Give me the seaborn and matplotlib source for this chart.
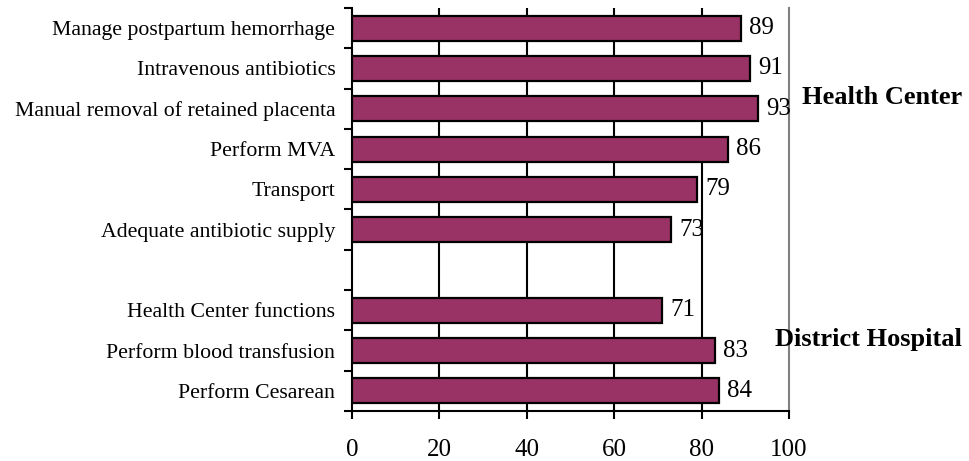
import matplotlib
matplotlib.use("Agg")
import matplotlib.pyplot as plt
import seaborn as sns
import pandas as pd

categories = ["Manage postpartum hemorrhage", "Intravenous antibiotics",
              "Manual removal of retained placenta", "Perform MVA", "Transport",
              "Adequate antibiotic supply", "Health Center functions",
              "Perform blood transfusion", "Perform Cesarean"]
values = [89, 91, 93, 86, 79, 73, 71, 83, 84]
order = categories[:6] + [" "] + categories[6:]
group_labels = ["Health Center", "District Hospital"]

sns.set_theme(style="white")
plt.rcParams['font.family'] = ['Liberation Serif', 'DejaVu Serif']
plt.rcParams['text.color'] = 'black'
plt.rcParams['xtick.color'] = 'black'
plt.rcParams['ytick.color'] = 'black'
plt.rcParams['axes.labelcolor'] = 'black'

df = pd.DataFrame({"cat": categories, "val": values})

fig = plt.figure(figsize=(9.69, 4.61), dpi=100)
ax = fig.add_axes([352/969, 1-411/461, (789-352)/969, (411-8)/461])

sns.barplot(data=df, y="cat", x="val", order=order, orient="h",
            color="#993366", saturation=1, width=0.62,
            edgecolor="black", linewidth=1.6, ax=ax, zorder=3)

for c in ax.containers:
    ax.bar_label(c, labels=[f"{v:g}" for v in c.datavalues], padding=6,
                 fontsize=18, color="black")

ax.set_xlim(0, 100)
ax.set_ylim(len(order) - 0.5, -0.5)
ax.set_xlabel("")
ax.set_ylabel("")

ax.set_xticks([0, 20, 40, 60, 80, 100])
ax.set_xticklabels(["0", "20", "40", "60", "80", "100"], fontsize=18)
ax.tick_params(axis="x", direction="out", length=6, width=1.5, color="black",
               pad=14, bottom=True, labelcolor="black")

ax.set_yticks([i - 0.5 for i in range(len(order) + 1)])
ax.set_yticklabels([])
ax.set_yticks(range(len(order)), minor=True)
ax.set_yticklabels(order, minor=True, fontsize=15.7)
ax.tick_params(axis="y", which="major", direction="out", length=6, width=1.5,
               color="black", left=True)
ax.tick_params(axis="y", which="minor", length=0, pad=12, labelcolor="black")

for x in [20, 40, 60, 80]:
    ax.axvline(x, color="black", lw=1.5, zorder=1)

for s in ["left", "bottom"]:
    ax.spines[s].set_color("black")
    ax.spines[s].set_linewidth(1.5)
ax.spines["top"].set_visible(False)
ax.spines["right"].set_color("#808080")
ax.spines["right"].set_linewidth(1.5)

fig.text(962/969, 1-98/461, group_labels[0], ha="right", va="center",
         fontsize=19, fontweight="bold", color="black")
fig.text(962/969, 1-339/461, group_labels[1], ha="right", va="center",
         fontsize=19, fontweight="bold", color="black")

fig.savefig("out.png", dpi=100)
